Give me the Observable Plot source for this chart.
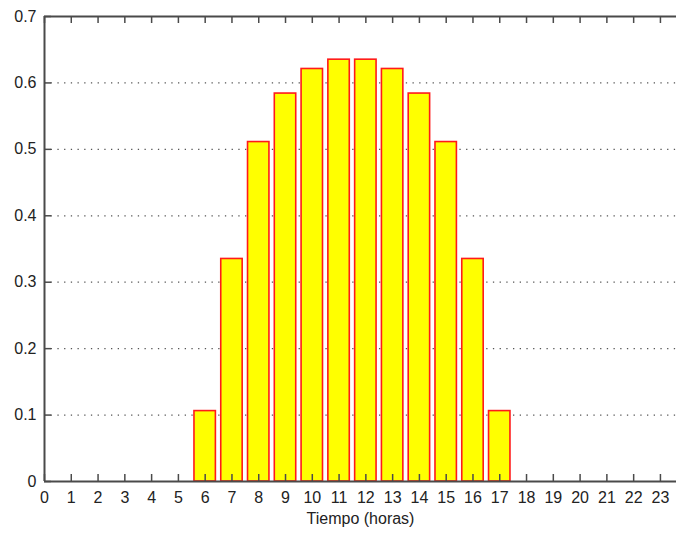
<!DOCTYPE html>
<html>
<head>
<meta charset="utf-8">
<script src="https://cdn.jsdelivr.net/npm/d3@7"></script>
<script src="https://cdn.jsdelivr.net/npm/@observablehq/plot@0.6"></script>
<style>
  html, body { margin: 0; padding: 0; background: #fff; }
  #chart svg { display: block; }
</style>
</head>
<body>
<div id="chart"></div>
<script>
// Data
const hours  = [6, 7, 8, 9, 10, 11, 12, 13, 14, 15, 16, 17];
const values = [0.106, 0.335, 0.511, 0.584, 0.621, 0.635, 0.635, 0.621, 0.584, 0.511, 0.335, 0.106];
const xTicks = d3.range(0, 24);          // 0 .. 23
const yTicks = [0, 0.1, 0.2, 0.3, 0.4, 0.5, 0.6, 0.7];
const gridTicks = [0.1, 0.2, 0.3, 0.4, 0.5, 0.6];
const xLabel = "Tiempo (horas)";

const data = hours.map((h, i) => ({hour: h, value: values[i]}));

const W = 676, H = 534;
const mL = 44, mR = 0, mT = 16, mB = 53;
const frameH = H - mT - mB;
const frameW = W - mL - mR;
const tickLen = 7;
const axisColor = "#4a4a4a";
const xMax = 23.6, yMax = 0.7;
// tick length expressed in data units of each scale
const tyLen = tickLen / frameH * yMax;
const txLen = tickLen / frameW * xMax;

const chart = Plot.plot({
  width: W,
  height: H,
  marginLeft: mL,
  marginRight: mR,
  marginTop: mT,
  marginBottom: mB,
  style: {fontFamily: "'Liberation Sans', Arial, sans-serif", fontSize: "16px", color: "#222", background: "#fff"},
  x: {domain: [0, xMax]},
  y: {domain: [0, yMax]},
  marks: [
    // dotted horizontal grid
    Plot.ruleY(gridTicks, {y: d => d, stroke: "#555", strokeWidth: 1.3, strokeDasharray: "1.3,5.4"}),
    // bars
    Plot.rectY(data, {x1: d => d.hour - 0.4, x2: d => d.hour + 0.4, y1: 0, y2: "value", fill: "#ffff00", stroke: "#ff1a1a", strokeWidth: 1.6}),
    // inward ticks: bottom, top, left
    Plot.ruleX(xTicks, {x: d => d, y1: 0, y2: tyLen, stroke: axisColor, strokeWidth: 1.5}),
    Plot.ruleX(xTicks, {x: d => d, y1: yMax - tyLen, y2: yMax, stroke: axisColor, strokeWidth: 1.5}),
    Plot.ruleY(yTicks, {y: d => d, x1: 0, x2: txLen, stroke: axisColor, strokeWidth: 1.5}),
    // axis box
    Plot.ruleX([0], {x: d => d, y1: 0, y2: yMax, stroke: axisColor, strokeWidth: 2}),
    Plot.ruleY([0, yMax], {y: d => d, x1: 0, x2: xMax, stroke: axisColor, strokeWidth: 2}),
    // tick labels
    Plot.axisX(xTicks, {tickSize: 0, tickPadding: 10, tickFormat: d => String(d), label: null, fontSize: 16}),
    Plot.axisY(yTicks, {tickSize: 0, tickPadding: 8, tickFormat: d => d === 0 ? "0" : d.toFixed(1), label: null, fontSize: 16}),
    // x label
    Plot.text([xLabel], {text: d => d, frameAnchor: "bottom", dy: 42, fontSize: 16, fill: "#222"})
  ]
});

document.getElementById("chart").appendChild(chart);
</script>
</body>
</html>
